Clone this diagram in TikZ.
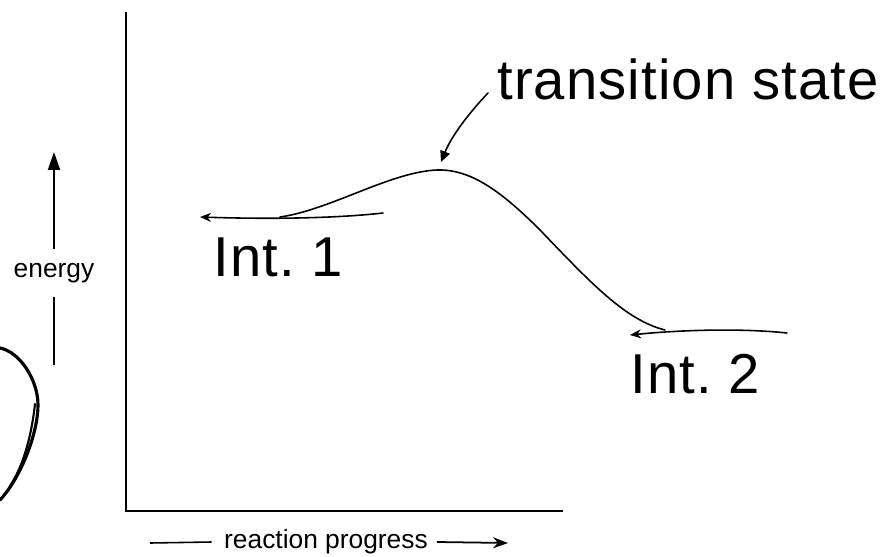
\documentclass[tikz,border=0pt]{standalone}
\usepackage{fontspec}
\setmainfont{Liberation Sans}
\usetikzlibrary{positioning,arrows.meta,calc}
\definecolor{rctinta}{HTML}{000000}
\definecolor{rcfundo}{HTML}{FFFFFF}
\tikzset{
  rceixo/.style={draw=rctinta, line width=1.1pt},
  rcseta/.style={-{Triangle[length=3.6mm, width=2.4mm]}, draw=rctinta, line width=1.1pt},
  rcsetafina/.style={-{Stealth[length=3mm, width=2.2mm]}, draw=rctinta, line width=1pt},
  rccaneta/.style={draw=rctinta, line width=0.9pt, line cap=round},
  rcrotulo/.style={font=\fontsize{15}{17}\selectfont, text=rctinta, inner sep=2pt},
  rcmao/.style={font=\fontsize{32}{36}\selectfont\addfontfeature{LetterSpace=2}, text=rctinta, inner sep=0pt},
}

\begin{document}
\begin{tikzpicture}[x=0.02cm, y=-0.02cm,
        ponta/.style={rccaneta, {Stealth[length=2.2mm, width=1.8mm]}-},
        laco/.style={draw=rctinta, line width=1.8pt, line cap=round}
    ]
        \useasboundingbox[fill=rcfundo] (0,0) rectangle (882,557);
        % eixos
        \coordinate (topo) at (126,12);
        \coordinate (origem) at (126,511);
        \coordinate (fimx) at (563,511);
        \draw[rceixo] (topo) -- (origem) -- (fimx);
        % rotulos dos eixos
        \node[rcrotulo] (energia) at (54,273) {energy};
        \coordinate (energiatopo) at (54,152);
        \coordinate (energiabase) at (54,365);
        \draw[rcseta] ([yshift=6pt]energia.north) -- (energiatopo);
        \draw[rceixo] ([yshift=-6pt]energia.south) -- (energiabase);
        \node[rcrotulo] (progresso) at (326,542) {reaction progress};
        \coordinate (progressoesq) at (150,543);
        \coordinate (progressodir) at (508,543);
        \draw[rceixo, line width=0.9pt] ([xshift=-5pt]progresso.west) -- (progressoesq);
        \draw[rcsetafina] ([xshift=3pt]progresso.east) -- (progressodir);
        % perfil de energia
        \draw[ponta] (200,217) .. controls (260,219) and (330,219) .. (383,213);
        \draw[rccaneta] (280,217) .. controls (330,210) and (390,172) .. (437,170)
              .. controls (470,169) and (500,190) .. (540,230)
              .. controls (590,282) and (625,320) .. (665,330);
        \draw[ponta] (630,335) .. controls (680,330) and (740,328) .. (787,333);
        % rotulos escritos a mao
        \node[rcmao, anchor=base west] (int1) at (213,276) {Int.\ 1};
        \node[rcmao, anchor=base west] (int2) at (630,393) {Int.\ 2};
        \node[rcmao, anchor=base west] (estado) at (497,100) {transition state};
        \coordinate (pico) at (441,162);
        \draw[rccaneta, -{Triangle[length=2.2mm, width=2mm]}]
              ([shift={(-9,-7)}]estado.base west) .. controls (470,112) and (452,135) .. (pico);
        % laco a esquerda
        \draw[laco] (0,348) .. controls (20,352) and (38,380) .. (38,405)
              .. controls (38,432) and (22,476) .. (0,500);
        \draw[rccaneta, line width=1.2pt] (35,404) .. controls (31,440) and (22,468) .. (10,486);
    \end{tikzpicture}
\end{document}
